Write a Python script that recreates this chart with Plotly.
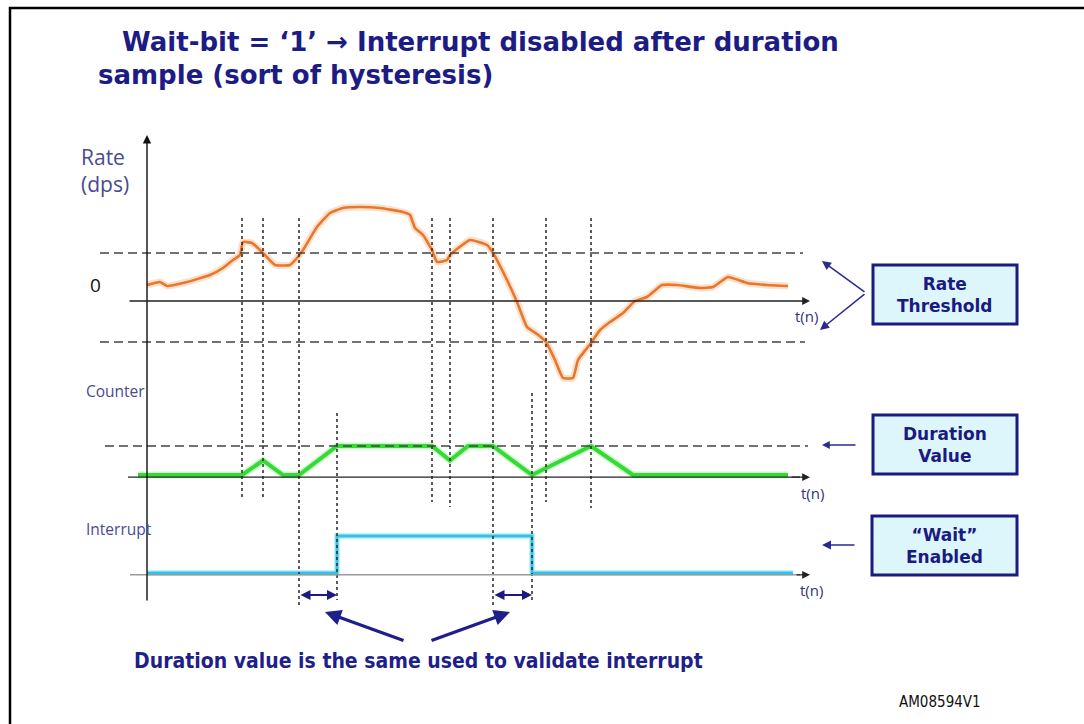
import plotly.graph_objects as go

# ---------------- data ----------------
# Rate curve (t in samples, rate in arbitrary dps units)
rate_t = [0, 13, 20, 40, 63, 76, 86, 93, 96, 105, 116, 128, 143, 150, 156, 170, 183, 196, 213, 233,
          256, 263, 268, 276, 285, 290, 300, 303, 323, 340, 346, 360, 370, 380, 390, 399, 408, 416,
          426, 431, 444, 453, 463, 476, 488, 500, 515, 530, 553, 566, 581, 600, 620, 641]
rate_v = [16, 19, 15, 19, 26, 33, 41, 46, 59, 58, 48, 36, 36, 43, 51, 74, 88, 93, 94, 93,
          89, 86, 73, 66, 51, 39, 41, 46, 61, 56, 48, 21, -1, -26, -33, -41, -59, -77,
          -77, -59, -42, -29, -21, -12, 0, 4, 16, 16, 13, 14, 24, 18, 16, 15]
rate_threshold_hi = 48
rate_threshold_lo = -41

# Counter
counter_t = [-9, 95, 116, 136, 152, 190, 285, 303, 321, 346, 385, 444, 486, 641]
counter_v = [0, 0, 2, 0, 0, 4, 4, 2, 4, 4, 0, 4, 0, 0]
duration_value = 4

# Interrupt
int_t = [0, 190, 190, 385, 385, 646]
int_v = [0, 0, 1, 1, 0, 0]

# Event instants (dotted verticals)
event_t = [95, 116, 152, 190, 285, 303, 346, 385, 399, 444]

# ---------------- helpers ----------------
W, H = 1084, 724
X0 = 147  # pixel of t=0


def px(x):
    return x / W


def py(y):
    return 1 - y / H


def tt(xpix):
    return xpix - X0


NAVY = "#1C1C84"
LABEL = "#4A4A8E"
NARROW = "DejaVu Sans Condensed, Liberation Sans Narrow, Liberation Sans, sans-serif"

fig = go.Figure()

fig.add_trace(go.Scatter(x=rate_t, y=rate_v, mode="lines", xaxis="x", yaxis="y",
                         line=dict(color="rgba(245,170,110,0.35)", width=7, shape="spline", smoothing=0.4),
                         hoverinfo="skip", showlegend=False))
fig.add_trace(go.Scatter(x=rate_t, y=rate_v, mode="lines", xaxis="x", yaxis="y",
                         line=dict(color="#E8762C", width=2.6, shape="spline", smoothing=0.4),
                         showlegend=False))
fig.add_trace(go.Scatter(x=counter_t, y=counter_v, mode="lines", xaxis="x", yaxis="y2",
                         line=dict(color="rgba(120,240,120,0.4)", width=7),
                         hoverinfo="skip", showlegend=False))
fig.add_trace(go.Scatter(x=counter_t, y=counter_v, mode="lines", xaxis="x", yaxis="y2",
                         line=dict(color="#36D936", width=4),
                         showlegend=False))
fig.add_trace(go.Scatter(x=int_t, y=int_v, mode="lines", xaxis="x", yaxis="y3",
                         line=dict(color="rgba(120,220,245,0.45)", width=6),
                         hoverinfo="skip", showlegend=False))
fig.add_trace(go.Scatter(x=int_t, y=int_v, mode="lines", xaxis="x", yaxis="y3",
                         line=dict(color="#2EC3EA", width=3),
                         showlegend=False))

shapes = []
annotations = []

# outer frame
shapes.append(dict(type="rect", xref="paper", yref="paper", x0=px(10), x1=px(1100), y0=py(740), y1=py(8),
                   line=dict(color="black", width=2.5), fillcolor="rgba(0,0,0,0)"))

# threshold dashed lines
shapes.append(dict(type="line", xref="x", yref="y", x0=tt(100), x1=tt(803), y0=rate_threshold_hi, y1=rate_threshold_hi,
                   line=dict(color="#444", width=1.5, dash="9px,5px")))
shapes.append(dict(type="line", xref="x", yref="y", x0=tt(100), x1=tt(805), y0=rate_threshold_lo, y1=rate_threshold_lo,
                   line=dict(color="#444", width=1.5, dash="9px,5px")))
shapes.append(dict(type="line", xref="x", yref="y2", x0=tt(105), x1=tt(808), y0=duration_value, y1=duration_value,
                   line=dict(color="#444", width=1.5, dash="9px,5px")))

# event verticals (pixel extents top/bottom)
ext = {95: (218, 500), 116: (218, 500), 152: (218, 605), 190: (413, 600), 285: (218, 502),
       303: (218, 507), 346: (218, 605), 385: (393, 600), 399: (218, 502), 444: (218, 508)}
for t in event_t:
    a, b = ext[t]
    shapes.append(dict(type="line", xref="x", yref="paper", x0=t, x1=t, y0=py(a), y1=py(b),
                       line=dict(color="#333", width=1.6, dash="3px,3px")))

# interrupt baseline (gray)
shapes.append(dict(type="line", xref="x", yref="y3", x0=tt(130), x1=tt(800), y0=-0.05, y1=-0.05,
                   line=dict(color="#9a9a9a", width=1.5)))
# counter baseline
shapes.append(dict(type="line", xref="x", yref="y2", x0=tt(128), x1=tt(800), y0=-0.3, y1=-0.3,
                   line=dict(color="#222", width=1.3)))

# boxes
boxes = [(873, 265, 1017, 324, "Rate<br>Threshold"),
         (873, 415, 1017, 474, "Duration<br>Value"),
         (872, 516, 1017, 575, "\u201cWait\u201d<br>Enabled")]
for x0, y0, x1, y1, txt in boxes:
    shapes.append(dict(type="rect", xref="paper", yref="paper", x0=px(x0), x1=px(x1), y0=py(y1), y1=py(y0),
                       line=dict(color="#1A1A80", width=3), fillcolor="#DDF6FB"))
    annotations.append(dict(x=px((x0 + x1) / 2), y=py((y0 + y1) / 2), xref="paper", yref="paper",
                            text=txt, showarrow=False, align="center", xanchor="center", yanchor="middle",
                            font=dict(family="DejaVu Sans", size=17, color="#1A1A80", weight="bold")))


def arrow(xt, yt, xs, ys, color=NAVY, width=1.5, head=2, size=1.0, side="end"):
    annotations.append(dict(x=px(xt), y=py(yt), xref="paper", yref="paper",
                            ax=xs - xt, ay=ys - yt, axref="pixel", ayref="pixel",
                            text="", showarrow=True, arrowhead=head, arrowsize=size,
                            arrowwidth=width, arrowcolor=color, arrowside=side,
                            startarrowhead=head, startarrowsize=size))


# y axis with arrow
arrow(147, 135, 147, 602, color="#111", width=1.4, head=2, size=1.2)
# rate zero line
annotations.append(dict(x=tt(810), y=0, xref="x", yref="y", ax=tt(128), ay=0, axref="x", ayref="y",
                        text="", showarrow=True, arrowhead=2, arrowsize=1.2, arrowwidth=1.3, arrowcolor="#222"))
annotations.append(dict(x=tt(810), y=-0.3, xref="x", yref="y2", ax=tt(790), ay=-0.3, axref="x", ayref="y2",
                        text="", showarrow=True, arrowhead=2, arrowsize=1.2, arrowwidth=1.3, arrowcolor="#222"))
annotations.append(dict(x=tt(810), y=-0.05, xref="x", yref="y3", ax=tt(795), ay=-0.05, axref="x", ayref="y3",
                        text="", showarrow=True, arrowhead=2, arrowsize=1.2, arrowwidth=1.3, arrowcolor="#222"))

# double arrows (duration windows)
for a, b in [(152, 190), (346, 385)]:
    annotations.append(dict(x=b, y=-0.595, xref="x", yref="y3", ax=a, ay=-0.595, axref="x", ayref="y3",
                            text="", showarrow=True, arrowhead=2, startarrowhead=2, arrowside="end+start",
                            arrowsize=1.0, startarrowsize=1.0, arrowwidth=2, arrowcolor="#1A1A80"))

# big arrows
arrow(325, 612, 405, 641, color="#1E1E8C", width=3.2, head=2, size=1.0)
arrow(510, 612, 430, 641, color="#1E1E8C", width=3.2, head=2, size=1.0)

# box arrows
arrow(822, 261, 866, 293, color="#2A2A90", width=1.5, head=2, size=1.2)
arrow(820, 330, 866, 293, color="#2A2A90", width=1.5, head=2, size=1.2)
arrow(822, 445, 857, 445, color="#2A2A90", width=1.3, head=2, size=1.2)
arrow(822, 545, 856, 545, color="#2A2A90", width=1.5, head=2, size=1.2)


def text(x, y, s, size, color, family="Open Sans", bold=False, xanchor="left", yanchor="middle"):
    annotations.append(dict(x=px(x), y=py(y), xref="paper", yref="paper", text=s, showarrow=False,
                            xanchor=xanchor, yanchor=yanchor, align="left",
                            font=dict(family=family, size=size, color=color,
                                      weight="bold" if bold else "normal")))


text(120, 42, "Wait-bit = \u20181\u2019 \u2192 Interrupt disabled after duration", 26, NAVY, "DejaVu Sans", True)
text(96, 75, "sample (sort of hysteresis)", 26, NAVY, "DejaVu Sans", True)
text(79, 170, "Rate<br>(dps)", 21, LABEL)
text(88, 285, "0", 19, "#111")
text(84, 391, "Counter", 15.5, LABEL)
text(84, 529, "Interrupt", 15.5, LABEL)
for xx, yy in ((793, 316), (799, 493), (798, 590)):
    text(xx, yy, "t(n)", 15, "#33337A")
text(418, 661, "Duration value is the same used to validate interrupt", 21, "#1F1F8A",
     NARROW, True, xanchor="center")
text(897, 702, "AM08594V1", 15, "#111", NARROW)

fig.update_layout(
    width=W, height=H, margin=dict(l=0, r=0, t=0, b=0),
    paper_bgcolor="white", plot_bgcolor="rgba(0,0,0,0)",
    xaxis=dict(domain=[0, 1], range=[-X0, W - X0], visible=False, fixedrange=True),
    yaxis=dict(domain=[py(390), py(130)], range=[-89, 171], visible=False, anchor="x"),
    yaxis2=dict(domain=[py(520), py(400)], range=[-6.207, 10.345], visible=False, anchor="x"),
    yaxis3=dict(domain=[py(620), py(500)], range=[-1.270, 1.973], visible=False, anchor="x"),
    shapes=shapes, annotations=annotations, showlegend=False,
)

fig.write_html("out.html", config={"displayModeBar": False},
               post_script="document.body.style.margin='0px';document.body.style.overflow='hidden';")
